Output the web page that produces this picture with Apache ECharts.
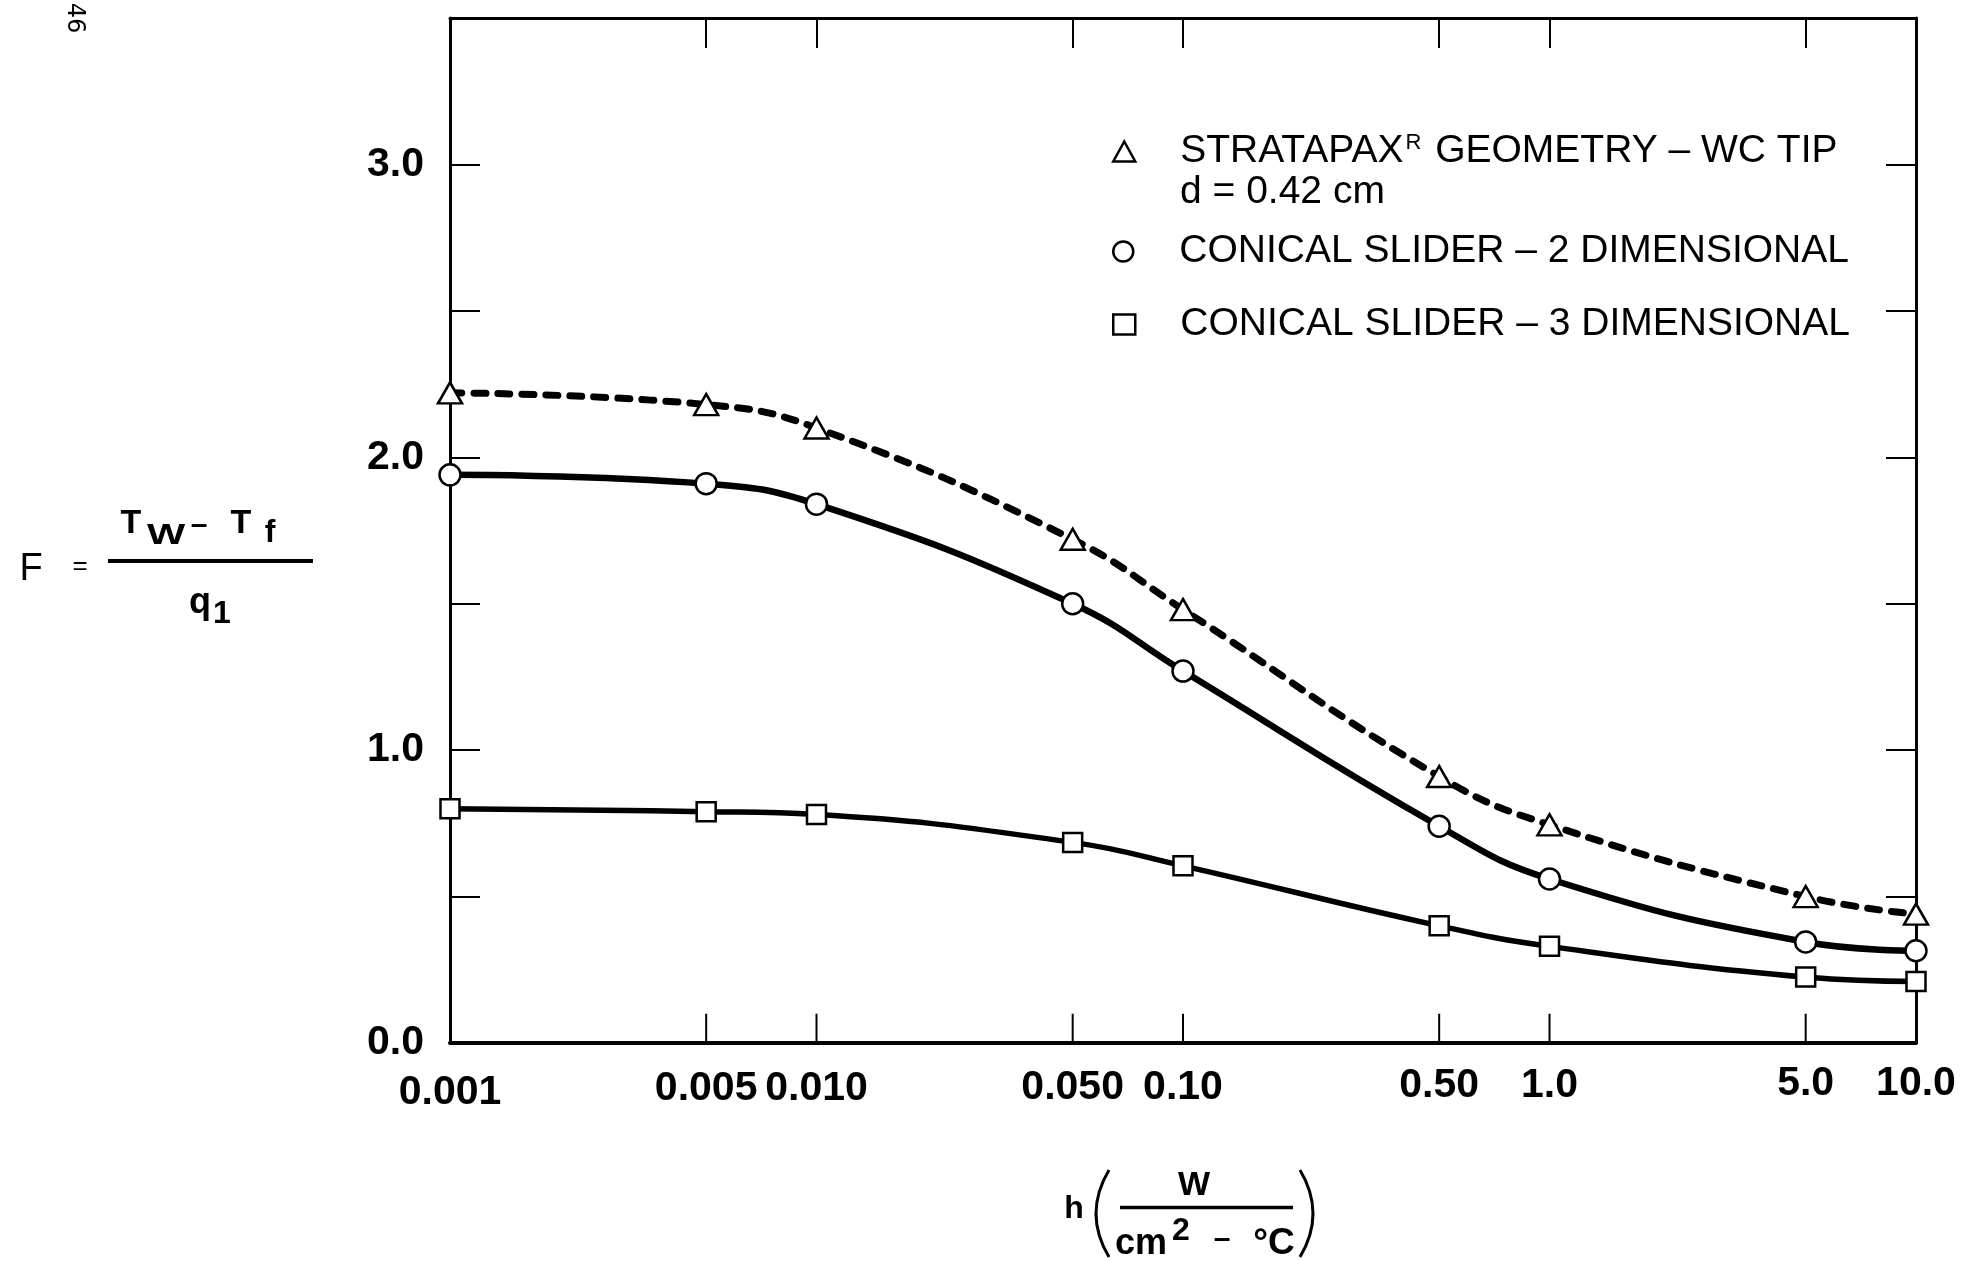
<!DOCTYPE html>
<html>
<head>
<meta charset="utf-8">
<script src="https://cdn.jsdelivr.net/npm/echarts@6/dist/echarts.min.js"></script>
<style>
  html, body { margin: 0; padding: 0; background: #fff; }
  #chart { width: 1963px; height: 1261px; }
</style>
</head>
<body>
<div id="chart"></div>
<script>
// h values (W / cm2-C), log axis
const hValues = [0.001, 0.005, 0.01, 0.05, 0.1, 0.5, 1.0, 5.0, 10.0];
// F = (Tw - Tf) / q1
const stratapax = [2.22, 2.18, 2.10, 1.72, 1.48, 0.91, 0.745, 0.50, 0.44];
const conical2D = [1.94, 1.91, 1.84, 1.50, 1.27, 0.74, 0.56, 0.345, 0.315];
const conical3D = [0.80, 0.79, 0.78, 0.685, 0.605, 0.40, 0.33, 0.225, 0.21];

const xTickValues = [0.005, 0.01, 0.05, 0.1, 0.5, 1, 5];
const xLabelValues = [0.001, 0.005, 0.01, 0.05, 0.1, 0.5, 1, 5, 10];
const xLabelTexts = ['0.001', '0.005', '0.010', '0.050', '0.10', '0.50', '1.0', '5.0', '10.0'];
// the scanned axis is slightly tilted, labels sit a bit lower on the left
const xLabelDrop = [9, 5, 5, 4, 4, 2, 2, 0, 0];

const xMin = 0.001, xMax = 10;
const yMax = 3.5;
const tickLen = 0.1; // inner tick length on the bottom edge, in F units

const seriesNames = [
  'STRATAPAX GEOMETRY – WC TIP',
  'CONICAL SLIDER – 2 DIMENSIONAL',
  'CONICAL SLIDER – 3 DIMENSIONAL'
];

const FONT = 'Liberation Sans';
const GRID = { left: 450, top: 18, right: 47, bottom: 218 };

function pairs(ys) {
  return hValues.map((h, i) => [h, ys[i]]);
}

const xLabelRich = {};
xLabelDrop.forEach(function (d, i) {
  xLabelRich['l' + i] = { fontSize: 41, fontWeight: 'bold', fontFamily: FONT, color: '#000', padding: [d, 0, 0, 0] };
});

function xLabel(v) {
  for (let i = 0; i < xLabelValues.length; i++) {
    if (Math.abs(v - xLabelValues[i]) / xLabelValues[i] < 1e-6) {
      return '{l' + i + '|' + xLabelTexts[i] + '}';
    }
  }
  return '';
}

const markerStyle = { color: '#fff', borderColor: '#000', borderWidth: 2.5 };

function legendAt(name, icon, top, rich) {
  return {
    data: [{ name: name, icon: icon }],
    left: 1112,
    top: top,
    padding: 0,
    itemWidth: 22,
    itemHeight: 20,
    selectedMode: false,
    itemStyle: { color: '#fff', borderColor: '#000', borderWidth: 2.5 },
    textStyle: {
      color: '#000', fontSize: 39, fontFamily: FONT,
      padding: [0, 0, 0, 40],
      rich: rich
    },
    formatter: rich ? function () {
      return 'STRATAPAX{sup|R} GEOMETRY – WC TIP';
    } : undefined
  };
}

function txt(text, x, y, size, bold, extra) {
  return Object.assign({
    type: 'text', x: x, y: y,
    style: { text: text, fontSize: size, fontWeight: bold ? 'bold' : 'normal', fontFamily: FONT,
      fill: '#000', align: 'center', verticalAlign: 'middle' }
  }, extra || {});
}

// inner ticks on the bottom edge, placed from the grid box and the log range
const plotW = 1963 - GRID.left - GRID.right;
const plotH = 1261 - GRID.top - GRID.bottom;
function tickX(v) {
  const lo = Math.log10(xMin), hi = Math.log10(xMax);
  return GRID.left + plotW * (Math.log10(v) - lo) / (hi - lo);
}
const tickY0 = GRID.top + plotH;
const tickY1 = tickY0 - plotH * tickLen / yMax;
const bottomTicks = xTickValues.map(function (v) {
  const x = tickX(v);
  return { type: 'line', z: 100, shape: { x1: x, y1: tickY0, x2: x, y2: tickY1 },
    style: { stroke: '#000', lineWidth: 2 } };
});

const titleGraphics = [
  // page number
  { type: 'text', x: 74, y: 18, rotation: -Math.PI / 2,
    style: { text: '46', fontSize: 24, fontFamily: 'DejaVu Sans', fill: '#000', align: 'center', verticalAlign: 'middle' } },
  // d = 0.42 cm (second line of first legend entry)
  { type: 'text', x: 1180, y: 192,
    style: { text: 'd = 0.42 cm', fontSize: 39, fontFamily: FONT, fill: '#000', align: 'left', verticalAlign: 'middle' } },

  // y axis title  F = (Tw - Tf) / q1
  txt('F', 31, 570, 38, false),
  txt('=', 80, 567, 26, false),
  { type: 'line', shape: { x1: 108, y1: 561, x2: 313, y2: 561 }, style: { stroke: '#000', lineWidth: 4 } },
  txt('T', 131, 524, 34, true),
  txt('W', 166, 536, 30, true, { scaleX: 1.35 }),
  txt('–', 199, 526, 30, true),
  txt('T', 241, 524, 34, true),
  txt('f', 270, 533, 32, true),
  txt('q', 200, 603, 36, true),
  txt('1', 222, 614, 32, true),

  // x axis title  h ( W / cm2 - C )
  txt('h', 1074, 1209, 32, true),
  { type: 'bezierCurve', shape: { x1: 1109, y1: 1170, x2: 1109, y2: 1257, cpx1: 1083, cpy1: 1213.5 },
    style: { stroke: '#000', lineWidth: 3, fill: null } },
  { type: 'bezierCurve', shape: { x1: 1300, y1: 1170, x2: 1300, y2: 1257, cpx1: 1326, cpy1: 1213.5 },
    style: { stroke: '#000', lineWidth: 3, fill: null } },
  txt('W', 1194, 1186, 34, true),
  { type: 'line', shape: { x1: 1120, y1: 1207.5, x2: 1293, y2: 1207.5 }, style: { stroke: '#000', lineWidth: 3.5 } },
  txt('cm', 1141, 1244, 36, true),
  txt('2', 1181, 1231, 32, true),
  txt('–', 1222, 1240, 30, true),
  txt('°C', 1274, 1244, 37, true)
];

const logAxisBase = { type: 'log', logBase: 10, min: xMin, max: xMax, splitLine: { show: false }, minorTick: { show: false } };

const chart = echarts.init(document.getElementById('chart'));

chart.setOption({
  animation: false,
  backgroundColor: '#fff',
  grid: GRID,
  legend: [
    legendAt(seriesNames[0], 'triangle', 132, {
      sup: { fontSize: 22, fontFamily: FONT, color: '#000', verticalAlign: 'top', lineHeight: 22, padding: [0, 3, 0, 2] }
    }),
    legendAt(seriesNames[1], 'circle', 232),
    legendAt(seriesNames[2], 'rect', 305)
  ],
  xAxis: [
    // bottom line and labels
    Object.assign({}, logAxisBase, {
      position: 'bottom',
      axisLine: { onZero: false, lineStyle: { color: '#000', width: 4 } },
      axisTick: { show: false },
      axisLabel: {
        customValues: xLabelValues,
        margin: 20,
        color: '#000',
        fontSize: 41,
        fontWeight: 'bold',
        fontFamily: FONT,
        formatter: xLabel,
        rich: xLabelRich
      }
    }),
    // top frame
    Object.assign({}, logAxisBase, {
      position: 'top',
      axisLine: { onZero: false, lineStyle: { color: '#000', width: 3 } },
      axisTick: { show: true, inside: true, length: 30, customValues: xTickValues, lineStyle: { color: '#000', width: 2 } },
      axisLabel: { show: false }
    })
  ],
  yAxis: [
    {
      type: 'value',
      min: 0,
      max: yMax,
      interval: 0.5,
      position: 'left',
      axisLine: { show: true, onZero: false, lineStyle: { color: '#000', width: 3 } },
      axisTick: { show: true, inside: true, length: 30, lineStyle: { color: '#000', width: 2 } },
      splitLine: { show: false },
      axisLabel: {
        margin: 26,
        color: '#000',
        fontSize: 41,
        fontWeight: 'bold',
        fontFamily: FONT,
        formatter: function (v) {
          return Math.abs(v % 1) < 1e-9 ? v.toFixed(1) : '';
        }
      }
    },
    {
      type: 'value',
      min: 0,
      max: yMax,
      interval: 0.5,
      position: 'right',
      axisLine: { show: true, onZero: false, lineStyle: { color: '#000', width: 3 } },
      axisTick: { show: true, inside: true, length: 30, lineStyle: { color: '#000', width: 2 } },
      splitLine: { show: false },
      axisLabel: { show: false }
    }
  ],
  series: [
    {
      name: seriesNames[0],
      type: 'line',
      smooth: 0.45,
      data: pairs(stratapax),
      symbol: 'triangle',
      symbolSize: [24, 21],
      itemStyle: markerStyle,
      lineStyle: { color: '#000', width: 7, type: [12, 12], cap: 'round' },
      z: 3
    },
    {
      name: seriesNames[1],
      type: 'line',
      smooth: 0.45,
      data: pairs(conical2D),
      symbol: 'circle',
      symbolSize: 21,
      itemStyle: markerStyle,
      lineStyle: { color: '#000', width: 6.5 },
      z: 3
    },
    {
      name: seriesNames[2],
      type: 'line',
      smooth: 0.45,
      data: pairs(conical3D),
      symbol: 'rect',
      symbolSize: 19,
      itemStyle: markerStyle,
      lineStyle: { color: '#000', width: 5.5 },
      z: 3
    }
  ],
  graphic: titleGraphics.concat(bottomTicks)
});
</script>
</body>
</html>
